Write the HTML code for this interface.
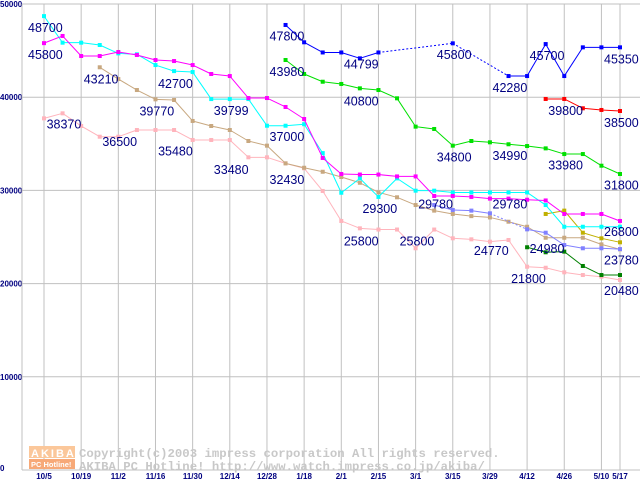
<!DOCTYPE html>
<html><head><meta charset="utf-8"><style>
body{margin:0;background:#fff;width:640px;height:480px;overflow:hidden}
svg{display:block}
.lbl{font-family:"Liberation Sans",sans-serif;font-size:12.5px;fill:#000080}
.tk{font-family:"Liberation Sans",sans-serif;font-size:8px;font-weight:bold;fill:#000080}
.cp{font-family:"Liberation Mono",monospace;font-size:12.3px;font-weight:bold;fill:#c8c8c8}
</style></head><body>
<svg id="chart" width="640" height="480" viewBox="0 0 640 480"></svg>
<script>
const xLabels=["10/5","10/19","11/2","11/16","11/30","12/14","12/28","1/18","2/1","2/15","3/1","3/15","3/29","4/12","4/26","5/10","5/17"];
const xLabelIdx=[0,2,4,6,8,10,12,14,16,18,20,22,24,26,28,30,31];
const yTicks=[0,10000,20000,30000,40000,50000];
const N=null;
const sMagenta=[45800,46570,44420,44420,44850,44530,43990,43880,43450,42490,42270,39910,39910,38950,37660,33480,31760,31700,31700,31500,31500,29400,29400,29300,29120,29120,29000,28920,27470,27470,27470,26720];
const sCyan=[48700,45850,45850,45600,44700,44600,43450,42800,42700,39800,39800,39800,36940,36940,37100,34000,29750,31290,29300,31290,29970,29970,29780,29780,29780,29780,29780,28430,26100,26100,26100,26100];
const sTan=[N,N,N,43210,41950,40770,39770,39700,37450,36910,36480,35300,34800,32900,32430,32000,31440,30820,29790,29260,28430,27830,27470,27240,27100,26640,26100,24920,24920,24920,24210,23680];
const sPink=[37730,38270,36910,35760,35760,36480,36480,36480,35410,35410,35410,33550,33550,32900,32370,29940,26720,25930,25800,25800,23790,25800,24860,24750,24500,24680,21810,21700,21210,20920,20740,20390];
const sBlue=[N,N,N,N,N,N,N,N,N,N,N,N,N,47750,45890,44800,44800,44170,44800,N,N,N,45780,N,N,42270,42270,45700,42270,45350,45350,45350];
const sGreen=[N,N,N,N,N,N,N,N,N,N,N,N,N,43990,42490,41660,41420,40950,40770,39880,36840,36590,34800,35300,35160,34950,34760,34510,33900,33900,32650,31760];
const sRed=[N,N,N,N,N,N,N,N,N,N,N,N,N,N,N,N,N,N,N,N,N,N,N,N,N,N,N,39810,39810,38810,38630,38520];
const sPeri=[N,N,N,N,N,N,N,N,N,N,N,N,N,N,N,N,N,N,N,N,N,28430,27900,27830,27540,N,25820,25460,24140,23790,23790,23700];
const sDkGreen=[N,N,N,N,N,N,N,N,N,N,N,N,N,N,N,N,N,N,N,N,N,N,N,N,N,N,23900,23360,23430,21890,20920,20920];
const sOlive=[N,N,N,N,N,N,N,N,N,N,N,N,N,N,N,N,N,N,N,N,N,N,N,N,N,N,N,27470,27830,25460,24860,24430];
const labelTexts=["48700","45800","43210","42700","39770","39799","38370","36500","37000","35480","33480","32430","47800","43980","44799","45800","45700","42280","45350","39800","38500","40800","34800","34990","33980","31800","29300","29780","29780","25800","25800","26800","24770","24980","21800","23780","20480"];
const labelIdx=[0,0,3,7,6,10,1,4,13,7,10,13,13,13,17,22,27,25,31,28,31,17,22,25,28,31,18,21,25,17,20,31,24,27,26,31,31];
const labelVals=[48700,45800,43210,42700,39770,39799,38370,36500,37000,35480,33480,32430,47800,43980,44799,45800,45700,42280,45350,39800,38500,40800,34800,34990,33980,31800,29300,29780,29780,25800,25800,26800,24770,24980,21800,23780,20480];

const svg=document.getElementById('chart');
const NS="http://www.w3.org/2000/svg";
const X0=22,XR=640,Y0=470,YT=4;
function xs(i){return 44+i*(576/31);}
function ys(v){return Y0-(v/50000)*(Y0-YT);}
function mk(t,a,p){const e=document.createElementNS(NS,t);for(const k in a)e.setAttribute(k,a[k]);(p||svg).appendChild(e);return e;}

const grid=mk('g',{});


yTicks.forEach(v=>{
  const y=ys(v);
  const l=mk('line',{x1:X0,x2:XR,y1:y,y2:y,stroke:'#c0c0c0','stroke-width':1},grid);
  
  
  const t=mk('text',{x:0,y:v===0?y+1:y+3,class:'tk'});
  t.textContent=v;
  
  
});
xLabels.forEach((s,k)=>{
  const x=xs(xLabelIdx[k]);
  const l=mk('line',{x1:x,x2:x,y1:YT,y2:Y0,stroke:'#c0c0c0','stroke-width':1},grid);
  
  
  const t=mk('text',{x:x,y:479,class:'tk','text-anchor':'middle'});
  t.textContent=s;
  
  
});
const ax=mk('line',{x1:X0,x2:X0,y1:YT,y2:Y0,stroke:'#c0c0c0'});



const wm=mk('g',{});


mk('rect',{x:29,y:446,width:46,height:12,fill:'#fbc79a'},wm);
mk('rect',{x:29,y:459,width:46,height:10,fill:'#f7a978'},wm);
const a1=mk('text',{x:31,y:457,'font-family':'Liberation Sans,sans-serif','font-size':'11px','font-weight':'bold',fill:'#fff','letter-spacing':'2'},wm);a1.textContent='AKIBA';
const a2=mk('text',{x:31,y:467,'font-family':'Liberation Sans,sans-serif','font-size':'7.5px','font-weight':'bold',fill:'#fff'},wm);a2.textContent='PC Hotline!';
const c1=mk('text',{x:79,y:457,class:'cp'},wm);c1.textContent='Copyright(c)2003 impress corporation All rights reserved.';
const c2=mk('text',{x:79,y:470,class:'cp'},wm);c2.textContent='AKIBA PC Hotline!  http://www.watch.impress.co.jp/akiba/';

function series(data,color,name,dashGaps){
  const g=mk('g',{});
  
  
  let prev=-1;
  for(let i=0;i<data.length;i++){
    if(data[i]===null)continue;
    if(prev>=0){
      const gap=i-prev>1;
      if(!gap||dashGaps){
        const l=mk('line',{x1:xs(prev),y1:ys(data[prev]),x2:xs(i),y2:ys(data[i]),stroke:color,'stroke-width':1},g);
        if(gap)l.setAttribute('stroke-dasharray','2,2');
      }
    }
    prev=i;
  }
  data.forEach((v,i)=>{
    if(v===null)return;
    const r=mk('rect',{x:xs(i)-2,y:ys(v)-2,width:4,height:4,fill:color},g);
    
    
  });
}
series(sPink,'#ffb4bc','series-pink',true);
series(sTan,'#c8a880','series-tan',true);
series(sPeri,'#8080ff','series-periwinkle',true);
series(sOlive,'#c0b000','series-olive',true);
series(sDkGreen,'#008000','series-dark-green',true);
series(sGreen,'#00e000','series-green',true);
series(sCyan,'#00ffff','series-cyan',true);
series(sMagenta,'#ff00ff','series-magenta',true);
series(sRed,'#ff0000','series-red',true);
series(sBlue,'#0000ff','series-blue',true);

labelTexts.forEach((s,k)=>{
  const x=xs(labelIdx[k])-16;
  const y=ys(labelVals[k])+16;
  const t=mk('text',{x:x,y:y,class:'lbl'});
  t.textContent=s;
  
  
});
</script>
</body></html>
